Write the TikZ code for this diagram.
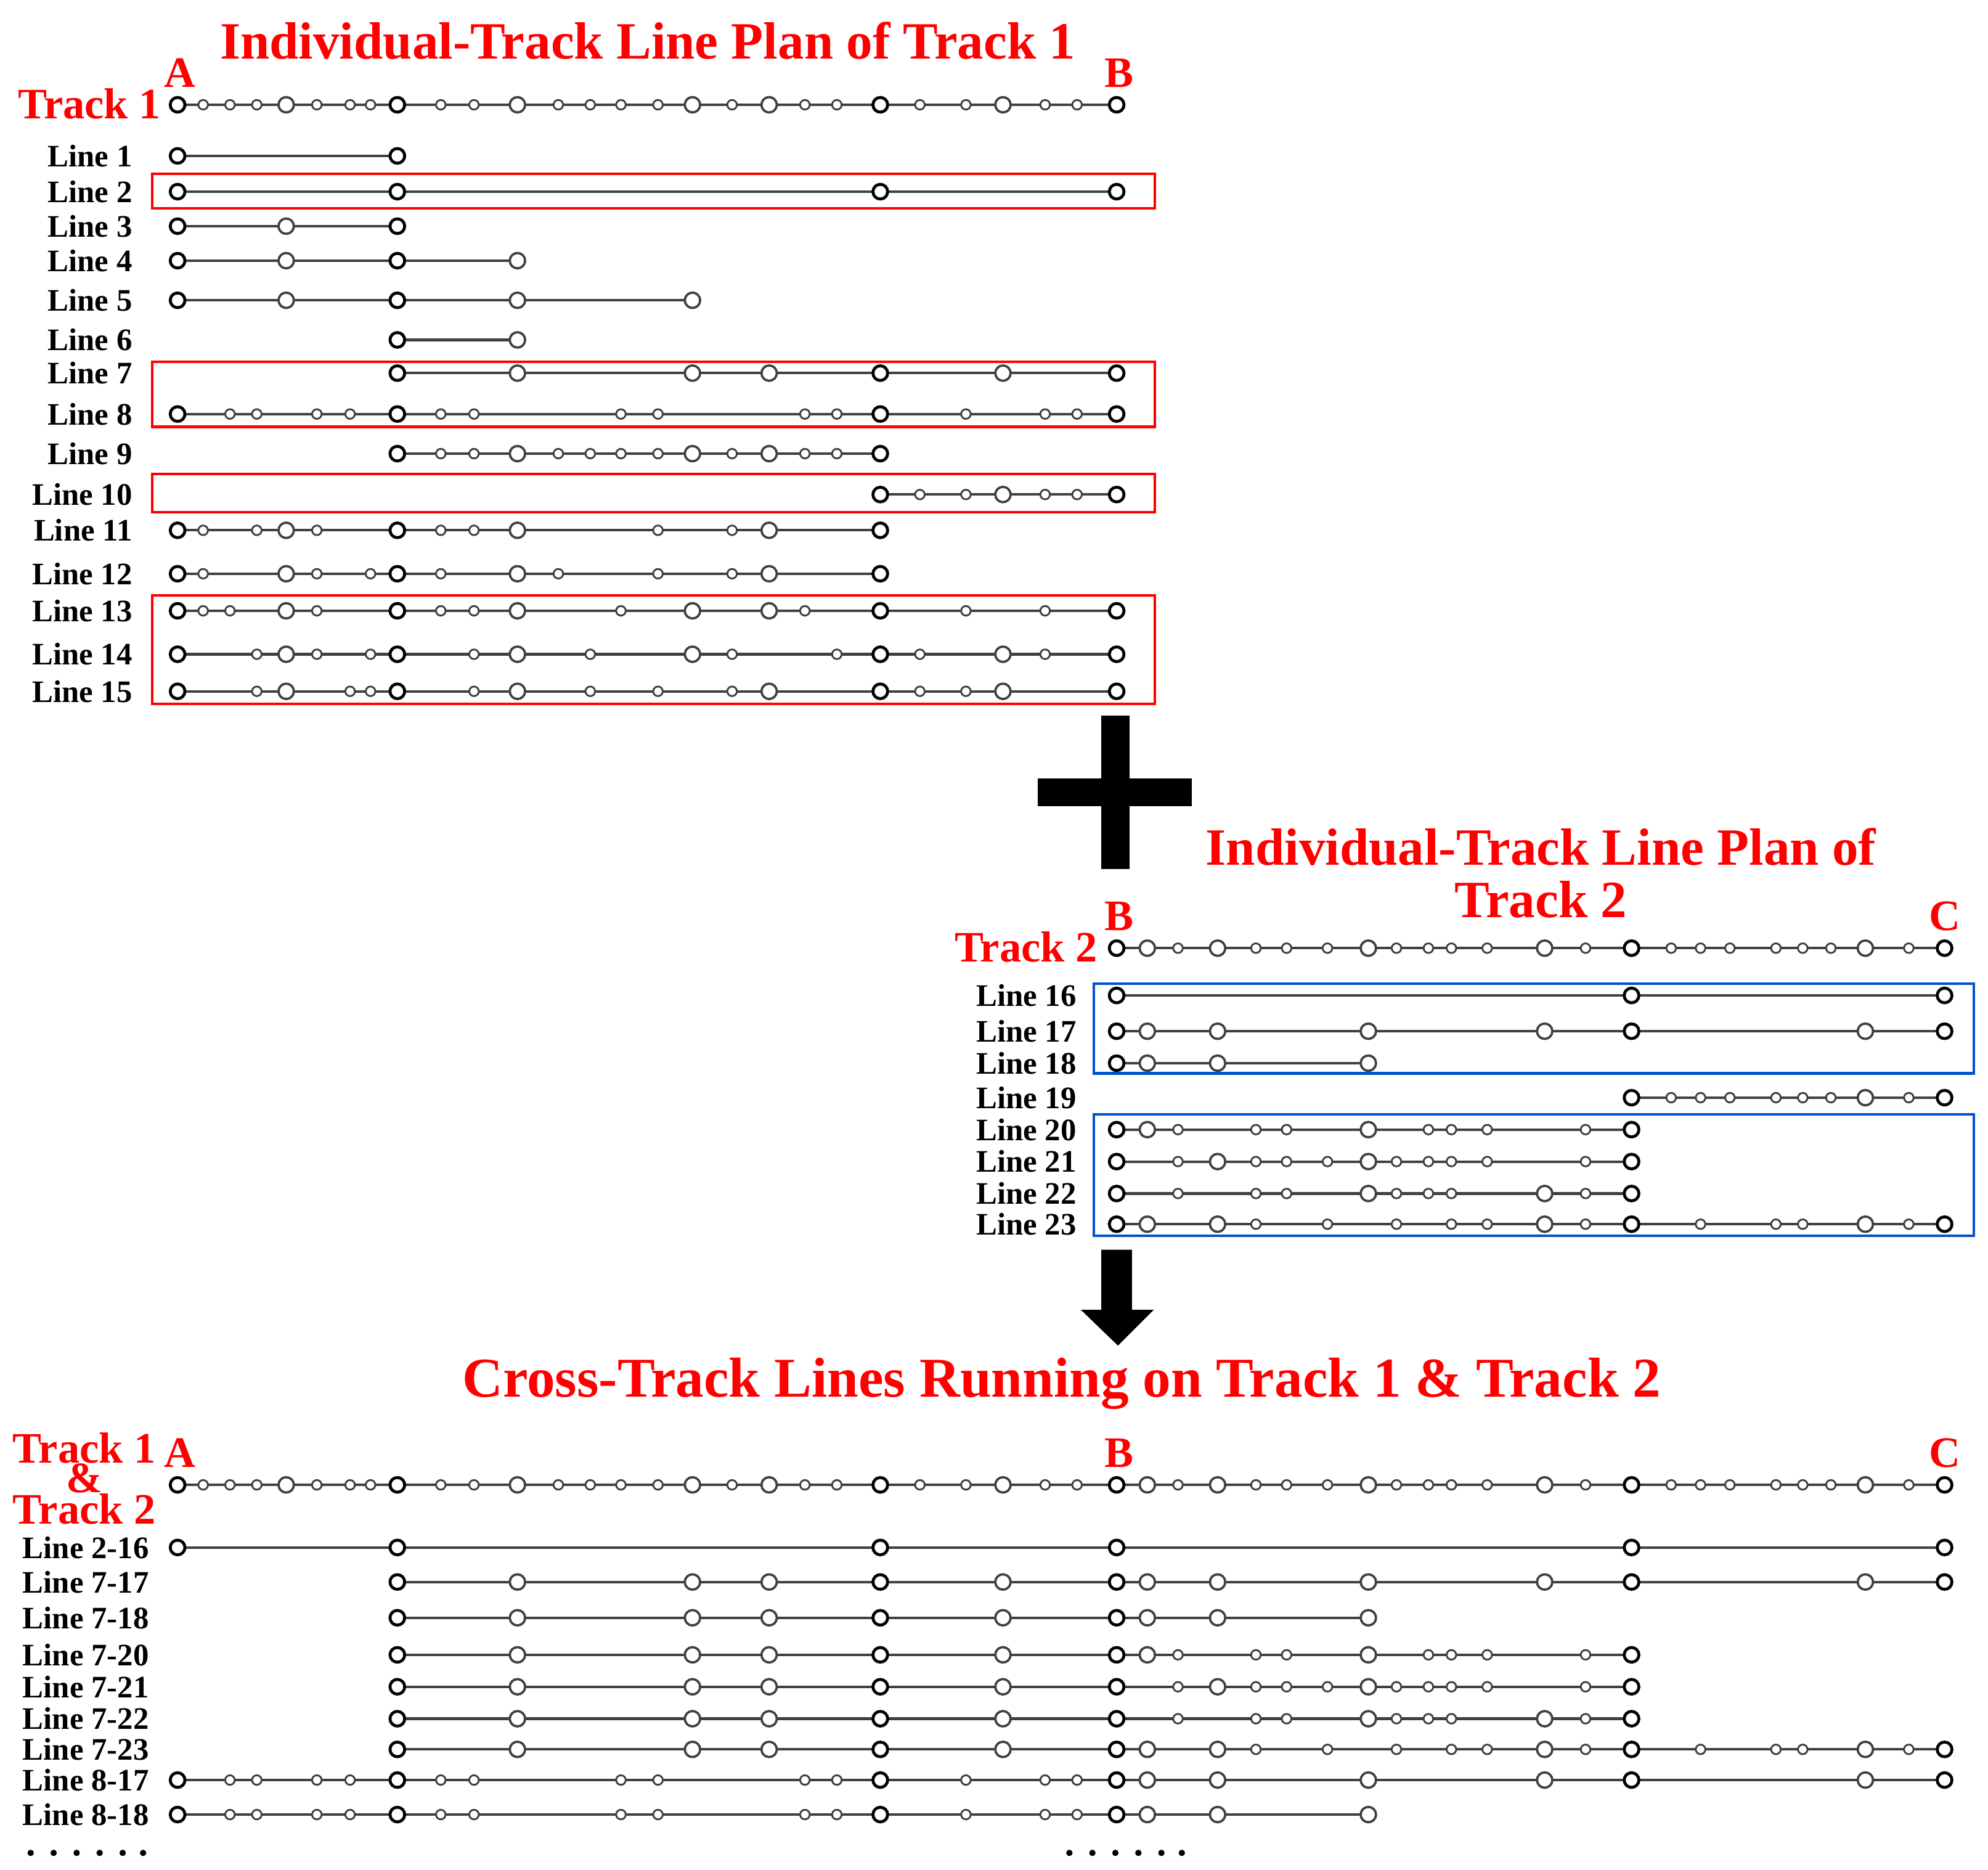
\documentclass[tikz,border=0pt]{standalone}
\usepackage{fontspec}
\setmainfont{Liberation Serif}
\begin{document}
\begin{tikzpicture}[x=1pt,y=-1pt,
  ln/.style={draw=black!75,line width=2pt},
  stn/.style={circle,inner sep=0pt,fill=white,draw=black!75},
  S/.style={minimum size=7.5pt,line width=1.4pt},
  B/.style={minimum size=12pt,line width=1.8pt},
  T/.style={minimum size=11.5pt,line width=2.3pt,draw=black},
  lab/.style={font=\fontsize{24.5}{26}\selectfont\bfseries,anchor=east},
  ttl/.style={font=\fontsize{41}{44}\selectfont\bfseries,text=red},
  pt/.style={font=\fontsize{34}{36}\selectfont\bfseries,text=red},
  box1/.style={draw=red,line width=2pt},
  box2/.style={draw=blue!60!cyan!80!black,line width=2pt},
  s139/.style=T,s311/.style=T,s689/.style=T,s874/.style=T,s1277/.style=T,s1522/.style=T,
  s224/.style=B,s405/.style=B,s542/.style=B,s602/.style=B,s785/.style=B,
  s898/.style=B,s953/.style=B,s1071/.style=B,s1209/.style=B,s1460/.style=B,
  s159/.style=S,s180/.style=S,s201/.style=S,s248/.style=S,s274/.style=S,s290/.style=S,
  s345/.style=S,s371/.style=S,s437/.style=S,s462/.style=S,s486/.style=S,s515/.style=S,
  s573/.style=S,s630/.style=S,s655/.style=S,s720/.style=S,s756/.style=S,s818/.style=S,s843/.style=S,
  s922/.style=S,s983/.style=S,s1007/.style=S,s1039/.style=S,s1093/.style=S,s1118/.style=S,
  s1136/.style=S,s1164/.style=S,s1241/.style=S,s1308/.style=S,s1331/.style=S,s1354/.style=S,
  s1390/.style=S,s1411/.style=S,s1433/.style=S,s1494/.style=S]
\newcommand\rowline[2]{%
  \foreach \x [count=\i] in {#2}{\ifnum\i=1 \xdef\rfirst{\x}\fi\xdef\rlast{\x}}%
  \draw[ln] (\rfirst,#1) -- (\rlast,#1);
  \foreach \x in {#2}{\node[stn,s\x] at (\x,#1) {};}}
\path[use as bounding box] (0,0) rectangle (1556,1463);
\fill[white] (0,0) rectangle (1556,1463);
% ---------- Track 1
\node[ttl] (t1) at (507,32) {Individual-Track Line Plan of Track 1};
\node[pt] (tk1) at (70,81) {Track 1};
\node[pt] (A1) at (141,57) {A};
\node[pt] (B1) at (876,57) {B};
\rowline{82}{139,159,180,201,224,248,274,290,311,345,371,405,437,462,486,515,542,573,602,630,655,689,720,756,785,818,843,874}
\draw[box1] (119,136) rectangle (904,163);
\draw[box1] (119,283) rectangle (904,334);
\draw[box1] (119,371) rectangle (904,401);
\draw[box1] (119,466) rectangle (904,551);
\foreach \y/\t in {122/1,150/2,177/3,204/4,235/5,266/6,292/7,324/8,355/9,387/10,415/11,449/12,478/13,512/14,541/15}
  \node[lab] (l\t) at (107,\y) {Line \t};
\rowline{122}{139,311}
\rowline{150}{139,311,689,874}
\rowline{177}{139,224,311}
\rowline{204}{139,224,311,405}
\rowline{235}{139,224,311,405,542}
\rowline{266}{311,405}
\rowline{292}{311,405,542,602,689,785,874}
\rowline{324}{139,180,201,248,274,311,345,371,486,515,630,655,689,756,818,843,874}
\rowline{355}{311,345,371,405,437,462,486,515,542,573,602,630,655,689}
\rowline{387}{689,720,756,785,818,843,874}
\rowline{415}{139,159,201,224,248,311,345,371,405,515,573,602,689}
\rowline{449}{139,159,224,248,290,311,345,405,437,515,573,602,689}
\rowline{478}{139,159,180,224,248,311,345,371,405,486,542,602,630,689,756,818,874}
\rowline{512}{139,201,224,248,290,311,371,405,462,542,573,655,689,720,785,818,874}
\rowline{541}{139,201,224,274,290,311,371,405,462,515,573,602,689,720,756,785,874}
% plus
\fill[black] (862,560) rectangle (884,680);
\fill[black] (812,609) rectangle (933,631);
% ---------- Track 2
\node[ttl] (t2a) at (1206,663) {Individual-Track Line Plan of};
\node[ttl] (t2b) at (1206,704) {Track 2};
\node[pt] (tk2) at (803,741) {Track 2};
\node[pt] (B2) at (876,717) {B};
\node[pt] (C2) at (1522,717) {C};
\rowline{742}{874,898,922,953,983,1007,1039,1071,1093,1118,1136,1164,1209,1241,1277,1308,1331,1354,1390,1411,1433,1460,1494,1522}
\draw[box2] (856,770) rectangle (1545,840);
\draw[box2] (856,872) rectangle (1545,967);
\foreach \y/\t in {779/16,807/17,832/18,859/19,884/20,909/21,934/22,958/23}
  \node[lab] (l\t) at (846,\y) {Line \t};
\rowline{779}{874,1277,1522}
\rowline{807}{874,898,953,1071,1209,1277,1460,1522}
\rowline{832}{874,898,953,1071}
\rowline{859}{1277,1308,1331,1354,1390,1411,1433,1460,1494,1522}
\rowline{884}{874,898,922,983,1007,1071,1118,1136,1164,1241,1277}
\rowline{909}{874,922,953,983,1007,1039,1071,1093,1118,1136,1164,1241,1277}
\rowline{934}{874,922,983,1007,1071,1093,1118,1136,1209,1241,1277}
\rowline{958}{874,898,953,983,1039,1093,1136,1164,1209,1241,1277,1331,1390,1411,1460,1494,1522}
% arrow
\fill[black] (862,978) -- (886,978) -- (886,1025) -- (903,1025) -- (875,1053) -- (846,1025) -- (862,1025) -- cycle;
% ---------- Combined
\node[ttl,font=\fontsize{44}{46}\selectfont\bfseries] (t3) at (831,1083) {Cross-Track Lines Running on Track 1 \& Track 2};
\node[pt] (tk3a) at (66,1133) {Track 1};
\node[pt] (tk3b) at (66,1157) {\&};
\node[pt] (tk3c) at (66,1181) {Track 2};
\node[pt] (A3) at (141,1137) {A};
\node[pt] (B3) at (876,1137) {B};
\node[pt] (C3) at (1522,1137) {C};
\rowline{1162}{139,159,180,201,224,248,274,290,311,345,371,405,437,462,486,515,542,573,602,630,655,689,720,756,785,818,843,874,898,922,953,983,1007,1039,1071,1093,1118,1136,1164,1209,1241,1277,1308,1331,1354,1390,1411,1433,1460,1494,1522}
\foreach \y/\t in {1211/2-16,1238/7-17,1266/7-18,1295/7-20,1320/7-21,1345/7-22,1369/7-23,1393/8-17,1420/8-18}
  \node[lab] (c\t) at (120,\y) {Line \t};
\rowline{1211}{139,311,689,874,1277,1522}
\rowline{1238}{311,405,542,602,689,785,874,898,953,1071,1209,1277,1460,1522}
\rowline{1266}{311,405,542,602,689,785,874,898,953,1071}
\rowline{1295}{311,405,542,602,689,785,874,898,922,983,1007,1071,1118,1136,1164,1241,1277}
\rowline{1320}{311,405,542,602,689,785,874,922,953,983,1007,1039,1071,1093,1118,1136,1164,1241,1277}
\rowline{1345}{311,405,542,602,689,785,874,922,983,1007,1071,1093,1118,1136,1209,1241,1277}
\rowline{1369}{311,405,542,602,689,785,874,898,953,983,1039,1093,1136,1164,1209,1241,1277,1331,1390,1411,1460,1494,1522}
\rowline{1393}{139,180,201,248,274,311,345,371,486,515,630,655,689,756,818,843,874,898,953,1071,1209,1277,1460,1522}
\rowline{1420}{139,180,201,248,274,311,345,371,486,515,630,655,689,756,818,843,874,898,953,1071}
\foreach \x in {24,42,60,78,96,112,837,855,873,891,909,925}
  \fill[black] (\x,1450) circle (2.5);
\end{tikzpicture}
\end{document}
